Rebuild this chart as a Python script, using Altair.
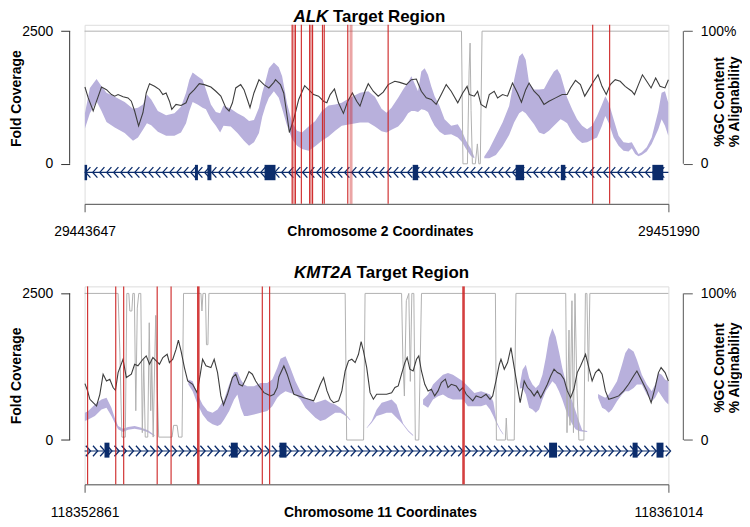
import altair as alt
import pandas as pd

FONT = "Liberation Sans"
NAVY = "#0b2c6b"
BAND = "#b8b0dc"
GC_COL = "#3d3d3d"
ALIGN_COL = "#b0b0b0"
RED = "#cc1f1f"
AXIS_COL = "#333333"

# ---------------- ALK (chromosome 2) ----------------
ALK_START, ALK_END = 29443647, 29451990
# (bp offset from region start, %GC)
alk_gc = [(5,57.9),(52,49.7),(123,39.8),(171,47.2),(242,57.9),(313,55.9),(384,52.2),(431,51.0),(478,52.2),(550,50.5),
          (621,49.7),(668,47.2),(715,39.8),(772,28.6),(834,38.5),(881,53.4),(928,60.4),(1000,58.4),(1071,55.9),(1118,52.2),
          (1165,53.4),(1213,47.2),(1246,41.0),(1307,44.8),(1378,44.0),(1450,46.0),(1497,52.2),(1568,55.9),(1639,60.4),(1710,59.7),
          (1805,57.9),(1876,54.7),(1947,51.0),(2018,42.3),(2065,39.8),(2113,46.0),(2160,57.2),(2231,59.7),(2278,55.9),(2326,48.5),
          (2364,42.3),(2420,53.4),(2492,63.4),(2563,59.7),(2634,57.2),(2705,61.4),(2728,63.4),(2799,59.7),(2846,53.4),(2894,36.0),
          (2927,23.6),(2989,33.6),(3060,48.5),(3145,58.9),(3202,55.9),(3273,52.2),(3344,51.0),(3415,47.2),(3462,46.0),(3510,52.2),
          (3571,56.4),(3628,46.0),(3699,38.0),(3761,47.2),(3827,53.4),(3889,47.2),(3936,43.5),(4007,54.7),(4054,60.4),(4125,54.7),
          (4196,51.0),(4268,54.0),(4339,59.7),(4433,62.2),(4504,61.4),(4599,59.7),(4670,63.4),(4741,63.9),(4812,54.7),(4883,49.7),
          (4954,48.5),(5025,44.8),(5097,52.2),(5168,59.7),(5239,54.7),(5333,46.0),(5404,53.4),(5466,58.4),(5499,52.2),(5570,51.0),
          (5617,54.7),(5665,44.8),(5736,42.3),(5783,52.2),(5854,54.7),(5902,49.7),(5973,52.2),(6044,51.0),(6115,60.9),(6186,53.4),
          (6243,46.5),(6304,55.9),(6352,60.9),(6423,54.7),(6494,51.0),(6565,44.8),(6636,47.2),(6731,49.7),(6825,52.2),(6896,52.2),
          (6944,57.2),(7015,62.9),(7086,59.7),(7147,51.0),(7204,55.9),(7275,62.2),(7337,67.1),(7394,58.4),(7455,52.2),(7512,59.7),
          (7583,63.4),(7654,62.2),(7725,58.4),(7820,54.7),(7858,52.2),(7915,59.7),(7972,67.1),(8033,62.2),(8095,57.2),(8161,64.7),
          (8223,58.4),(8294,57.2),(8343,63.4)]
# coverage band pieces: (bp offset, max fold coverage, min fold coverage)
alk_band_a = [(5,951,665),(76,1430,951),(171,1598,1181),(242,1461,995),(313,1337,789),(431,1262,684),(573,1163,578),
              (692,1038,435),(763,1057,497),(834,1119,640),(891,1305,765),(952,1212,727),(1047,995,603),(1165,914,528),
              (1284,951,528),(1378,1075,590),(1450,1337,765),(1497,1586,995),(1544,1722,1163),(1615,1648,1119),(1686,1586,1057),
              (1734,1399,1026),(1805,1119,839),(1876,976,715),(1937,951,590),(1985,1100,715),(2089,1038,702),(2184,951,578),
              (2278,889,435),(2350,808,341),(2421,827,404),(2492,1057,578),(2539,1337,889),(2586,1554,1088),(2634,1803,1243),
              (2705,1909,1368),(2775,1822,1243),(2823,1648,1038),(2894,1138,715),(2965,777,466),(3036,621,341),(3107,590,280),
              (3202,702,248),(3296,808,329),(3391,995,435),(3486,1100,516),(3581,1119,621),(3675,1150,715),(3794,1243,746),
              (3936,1337,777),(4054,1368,777),(4149,1262,702),(4244,1038,615),(4315,964,590),(4386,1057,640),(4481,1243,702),
              (4552,1399,808),(4623,1536,951),(4670,1648,995),(4718,1511,995),(4765,1368,976),(4812,1741,1026),(4860,1803,1013),
              (4907,1679,976),(4954,1461,839),(5002,1274,715),(5073,1088,603),(5144,839,541),(5239,715,559),(5333,746,497),
              (5390,621,416),(5452,435,279),(5523,280,143),(5570,130,105)]
alk_band_b = [(5712,136,105),(5783,279,105),(5878,528,167),(5973,777,329),(6067,1088,541),(6138,1586,777),(6210,2021,951),
              (6257,2083,995),(6304,1959,951),(6352,1524,870),(6423,1399,746),(6494,1399,590),(6565,1411,559),(6636,1586,621),
              (6707,1741,715),(6754,1785,777),(6802,1679,839),(6849,1461,808),(6896,1243,765),(6967,1026,590),(7038,839,466),
              (7110,715,391),(7181,653,404),(7252,715,453),(7323,901,497),(7394,1119,715),(7441,1274,901),(7488,1162,777),
              (7560,839,497),(7631,528,341),(7702,404,248),(7773,391,230),(7820,404,292),(7868,292,186),(7915,186,143),
              (7962,217,167),(8033,311,230),(8104,497,373),(8199,995,652),(8246,1337,839),(8294,1368,715),(8341,1150,528)]
alk_bands = [alk_band_a, alk_band_b]
# (bp offset, % alignability)
alk_align = [(0,100),(5386,100),(5407,0),(5471,0),(5495,70),(5509,91),(5523,40),(5542,0),(5584,0),(5613,15),
             (5634,0),(5655,0),(5680,100),(8343,100)]
alk_red = [2966,3013,3098,3216,3258,3400,3425,3761,4338,7261,7503]
alk_red_pale = [2988,3237,3808]
alk_red_bold = []
alk_exons = [(0,36),(1577,1620),(1755,1812),(2572,2728),(4689,4767),(6160,6281),(6806,6870),(8114,8270)]

# ---------------- KMT2A (chromosome 11) ----------------
KMT_START, KMT_END = 118352861, 118361014
kmt_gc = [(5,38.5),(42,33.5),(74,27.8),(120,25.5),(167,23.2),(213,31.2),(259,44.9),(306,40.3),(352,41.5),(398,35.8),
          (431,33.9),(468,46.0),(537,55.1),(583,42.6),(653,44.9),(699,51.7),(745,50.6),(815,55.1),(861,57.4),(907,51.7),
          (954,56.3),(1000,54.0),(1046,51.7),(1093,56.3),(1153,58.5),(1185,52.8),(1232,55.1),(1278,62.0),(1310,68.1),(1347,60.8),
          (1394,49.4),(1440,40.3),(1509,38.0),(1570,32.4),(1616,44.9),(1648,55.1),(1695,50.6),(1764,49.4),(1810,55.1),(1857,46.0),
          (1903,30.1),(1940,23.9),(1996,31.2),(2065,42.6),(2111,44.9),(2158,38.0),(2204,36.9),(2250,41.5),(2296,46.7),(2343,44.9),
          (2389,40.3),(2435,36.9),(2505,32.3),(2551,31.2),(2597,30.1),(2644,31.2),(2690,35.8),(2713,43.0),(2783,50.5),(2829,44.9),
          (2875,38.0),(2922,31.2),(2991,30.1),(3061,28.9),(3130,27.8),(3199,26.7),(3246,32.3),(3292,38.0),(3338,42.6),(3385,33.5),
          (3431,27.8),(3477,25.5),(3547,26.7),(3593,33.5),(3639,47.1),(3686,54.0),(3732,55.1),(3778,52.8),(3825,58.5),(3862,67.2),
          (3894,60.8),(3940,49.4),(3987,32.3),(4033,27.8),(4079,31.2),(4149,31.2),(4218,31.2),(4288,32.3),(4334,35.8),(4380,36.9),
          (4426,44.9),(4473,52.8),(4505,56.3),(4542,48.3),(4588,47.1),(4635,55.1),(4667,57.4),(4704,47.1),(4751,38.0),(4797,33.5),
          (4843,34.6),(4889,30.1),(4936,33.5),(4982,39.2),(5038,41.5),(5075,35.8),(5121,38.0),(5190,36.9),(5237,33.5),(5283,35.8),
          (5329,31.2),(5376,28.9),(5421,26.7),(5468,30.1),(5537,28.9),(5607,31.2),(5662,27.8),(5699,30.1),(5745,40.3),(5792,51.7),
          (5815,55.1),(5861,48.3),(5907,52.8),(5954,63.1),(6000,49.4),(6046,35.8),(6083,25.5),(6139,40.3),(6185,35.8),(6232,33.5),
          (6278,30.1),(6324,33.5),(6370,28.9),(6417,33.5),(6463,38.0),(6509,43.7),(6556,48.3),(6602,46.0),(6648,44.9),(6695,41.5),
          (6741,33.5),(6787,28.9),(6833,34.6),(6880,46.0),(6926,50.5),(6996,58.5),(7042,49.4),(7088,40.3),(7134,46.0),(7181,48.3),
          (7227,44.9),(7273,33.5),(7320,27.8),(7389,28.9),(7459,30.1),(7528,33.5),(7597,38.0),(7667,43.7),(7713,47.1),(7759,42.6),
          (7806,38.0),(7852,33.5),(7912,25.5),(7968,35.8),(8014,46.0),(8051,49.4),(8107,46.0),(8153,40.3)]
kmt_band_a = [(5,464,323),(51,493,351),(144,606,408),(236,691,521),(306,719,550),(375,550,408),(421,380,295),(468,238,182),
              (537,193,136),(607,221,176),(699,238,193),(792,210,170),(884,165,131),(977,85,63)]
kmt_band_b = [(1449,1030,946),(1509,1002,832),(1579,776,607),(1648,606,436),(1718,493,323),(1787,464,267),(1857,521,238),
              (1903,606,267),(1949,691,351),(2019,946,493),(2088,1160,691),(2134,1160,776),(2181,1030,550),(2227,946,408),
              (2273,917,408),(2366,917,436),(2459,974,464),(2551,974,493),(2621,1030,577),(2690,1228,719),(2736,1387,776),
              (2806,1427,832),(2875,1228,804),(2945,1002,776),(3014,832,691),(3084,719,550),(3153,691,464),(3223,634,380),
              (3292,663,323),(3362,691,351),(3431,634,408),(3500,606,464),(3570,550,464),(3616,493,436),(3662,419,396),(3709,351,334)]
kmt_band_c = [(3940,210,199),(4010,323,295),(4079,521,408),(4149,634,436),(4218,663,464),(4288,691,464),(4357,606,380),
              (4403,436,323),(4450,278,255),(4519,165,147),(4588,85,68)]
kmt_band_d = [(4727,691,606),(4797,776,550),(4866,946,691),(4936,1030,747),(5005,1115,776),(5075,1143,719),(5144,1115,691),
              (5214,1059,691),(5283,1002,691),(5352,917,577),(5444,804,577),(5537,832,577),(5607,804,606),(5662,776,521),
              (5708,651,408),(5755,312,278),(5801,193,170),(5847,108,91)]
kmt_band_e = [(6079,946,877),(6116,1200,889),(6162,1285,776),(6208,1059,550),(6255,946,521),(6301,889,464),(6347,946,521),
              (6394,1115,691),(6440,1398,832),(6486,1738,917),(6533,1908,1002),(6579,1766,946),(6625,1511,832),(6671,1228,691),
              (6718,1002,521),(6764,832,380),(6810,663,267),(6857,493,182),(6903,323,153),(6949,170,147),(7019,153,136)]
kmt_band_f = [(7171,787,719),(7227,747,550),(7273,719,521),(7320,776,464),(7366,860,521),(7435,1002,663),(7505,1285,776),
              (7551,1483,832),(7597,1568,832),(7667,1511,889),(7713,1370,946),(7782,1115,946),(7852,946,776),(7921,832,663),
              (7968,946,719),(8014,1143,832),(8060,1115,747),(8107,1030,663),(8153,1002,606)]
kmt_bands = [kmt_band_a, kmt_band_b, kmt_band_c, kmt_band_d, kmt_band_e, kmt_band_f]
kmt_align = [(0,100),(468,100),(493,60),(521,2),(569,2),(590,100),(618,100),(632,88),(660,88),(674,100),(695,100),
             (715,20),(736,90),(757,100),(785,100),(806,5),(826,55),(847,2),(882,2),(903,80),(924,20),(938,55),(958,2),
             (993,85),(1014,35),(1035,2),(1222,2),(1243,10),(1292,10),(1313,2),(1361,2),(1382,100),(1625,100),(1639,88),
             (1653,100),(1688,100),(1702,65),(1722,65),(1736,100),(3639,100),(3660,0),(3896,0),(3917,100),(4427,100),
             (4445,55),(4466,30),(4493,95),(4528,100),(4549,40),(4570,100),(4598,100),(4619,0),(4667,0),(4705,100),
             (5737,100),(5751,0),(5876,0),(5889,15),(5903,0),(6000,0),(6024,100),(6719,100),(6737,5),(6765,75),(6778,10),
             (6806,95),(6827,5),(6848,100),(6876,35),(6903,0),(6973,0),(6994,100),(7015,100),(7036,40),(7056,100),(8153,100)]
kmt_red = [42,435,546,1014,1208,2482,2584]
kmt_red_pale = []
kmt_red_bold = [1588,5292]
kmt_exons = [(278,347),(2042,2139),(2722,2820),(6487,6598),(7653,7723),(7987,8084)]

COV_TICKS = [0, 2500]
PCT_TICKS = [0, 100]
Y_DOMAIN = [-755, 2620]
P_DOMAIN = [-30.2, 104.8]
W = 587
CHEVRON_STEP = 100
TITLE_FS = 17


def panel(gene, chrom, start, end, H, gc, bands, align, red, red_pale, red_bold, exons, strand,
          track_y, exon_y, gene_x, title_y, ltitle_y, rtitle_y, lab_pad, xtitle_y):
    xs = alt.Scale(domain=[start, end], nice=False, zero=False)
    xaxis = alt.Axis(values=[start, end], format="d", title=f"Chromosome {chrom} Coordinates",
                     labelFontSize=14, labelColor="black", labelFlush=False, labelOverlap=False,
                     labelBaseline="alphabetic", labelPadding=lab_pad, tickSize=8, tickColor="#555555",
                     domainColor="#555555", titleFontSize=14, titleFontWeight="bold", titleColor="black",
                     titleBaseline="alphabetic", titleX=297, titleY=xtitle_y, titleAlign="center", grid=False)

    def X(f):
        return alt.X(f"{f}:Q", scale=xs, axis=xaxis)

    ys = alt.Scale(domain=Y_DOMAIN, nice=False, zero=False)
    yaxis = alt.Axis(orient="left", values=COV_TICKS, format="d", offset=15, domain=False, tickSize=9,
                     tickColor=AXIS_COL, labelFontSize=14, labelColor="black", labelPadding=8,
                     title="Fold Coverage", titleFontSize=14, titleFontWeight="bold", titleColor="black",
                     titleAngle=270, titleBaseline="alphabetic", titleAlign="center", titleX=-49,
                     titleY=ltitle_y, grid=False)

    def Y(f):
        return alt.Y(f"{f}:Q", scale=ys, axis=yaxis)

    ps = alt.Scale(domain=P_DOMAIN, nice=False, zero=False)
    paxis = alt.Axis(orient="right", values=PCT_TICKS, labelExpr="datum.value == 100 ? '100%' : '0'",
                     offset=15, domain=False, tickSize=9, tickColor="#555555", labelFontSize=14,
                     labelColor="black", labelPadding=8, title=["%GC Content", "% Alignability"],
                     titleFontSize=14, titleFontWeight="bold", titleColor="black", titleAngle=270,
                     titleBaseline="alphabetic", titleAlign="center", titleX=40, titleY=rtitle_y,
                     titleLineHeight=15.5, grid=False)

    def P(f):
        return alt.Y(f"{f}:Q", scale=ps, axis=paxis)

    gc_df = pd.DataFrame(gc, columns=["off", "gc"])
    gc_df["pos"] = start + gc_df["off"]
    rows = []
    for i, seg in enumerate(bands):
        for off, hi, lo in seg:
            rows.append({"pos": start + off, "hi": hi, "lo": lo, "seg": i})
    band_df = pd.DataFrame(rows)
    al_df = pd.DataFrame(align, columns=["off", "al"])
    al_df["pos"] = start + al_df["off"]
    red_df = pd.DataFrame({"pos": [start + r for r in red]})
    ex_df = pd.DataFrame(exons, columns=["s", "e"])
    ex_df["s"] += start
    ex_df["e"] += start
    ex_df["y1"] = exon_y[0]
    ex_df["y2"] = exon_y[1]
    chev_df = pd.DataFrame({"pos": list(range(start + CHEVRON_STEP // 2, end, CHEVRON_STEP))})
    chev_df["y"] = track_y
    line_df = pd.DataFrame({"a": [start], "b": [end], "y": [track_y]})
    laxis_df = pd.DataFrame({"y0": [COV_TICKS[0]], "y1": [COV_TICKS[1]]})
    raxis_df = pd.DataFrame({"y0": [PCT_TICKS[0]], "y1": [PCT_TICKS[1]]})

    if strand < 0:
        chev = "M0.45,-1L-0.45,0L0.45,1"
    else:
        chev = "M-0.45,-1L0.45,0L-0.45,1"

    band = alt.Chart(band_df).mark_area(color=BAND, opacity=1).encode(
        x=X("pos"), y=Y("hi"), y2="lo", detail="seg:N")
    gline = alt.Chart(line_df).mark_rule(color=NAVY, strokeWidth=1.2).encode(
        x=X("a"), x2="b", y=Y("y"))
    chevs = alt.Chart(chev_df).mark_point(shape=chev, size=110, filled=False, color=NAVY,
                                          strokeWidth=1.3, opacity=1).encode(x=X("pos"), y=Y("y"))
    exr = alt.Chart(ex_df).mark_rect(color=NAVY).encode(x=X("s"), x2="e", y=Y("y1"), y2="y2")
    lax = alt.Chart(laxis_df).mark_rule(color=AXIS_COL, strokeWidth=1).encode(
        x=alt.value(-15), y=Y("y0"), y2="y1")
    t1 = alt.Chart(pd.DataFrame({"t": [gene]})).mark_text(
        align="right", baseline="alphabetic", font=FONT, fontSize=TITLE_FS, fontWeight="bold",
        fontStyle="italic", color="black").encode(text="t:N", x=alt.value(gene_x), y=alt.value(title_y))
    t2 = alt.Chart(pd.DataFrame({"t": ["Target Region"]})).mark_text(
        align="left", baseline="alphabetic", font=FONT, fontSize=TITLE_FS, fontWeight="bold",
        color="black").encode(text="t:N", x=alt.value(gene_x + 4.7), y=alt.value(title_y))
    left = alt.layer(band, gline, chevs, exr, lax, t1, t2)

    aline = alt.Chart(al_df).mark_line(color=ALIGN_COL, strokeWidth=1).encode(x=X("pos"), y=P("al"))
    gcl = alt.Chart(gc_df).mark_line(color=GC_COL, strokeWidth=1.1).encode(x=X("pos"), y=P("gc"))
    layers = [aline, gcl]
    if red_pale:
        layers.append(alt.Chart(pd.DataFrame({"pos": [start + r for r in red_pale]})).mark_rule(
            color=RED, strokeWidth=3, opacity=0.4).encode(x=X("pos")))
    if red_bold:
        layers.append(alt.Chart(pd.DataFrame({"pos": [start + r for r in red_bold]})).mark_rule(
            color=RED, strokeWidth=2.6, opacity=0.85).encode(x=X("pos")))
    layers.append(alt.Chart(red_df).mark_rule(color=RED, strokeWidth=1.2, opacity=0.9).encode(x=X("pos")))
    layers.append(alt.Chart(raxis_df).mark_rule(color="#555555", strokeWidth=1).encode(
        x=alt.value(W + 15), y=P("y0"), y2="y1"))
    right = alt.layer(*layers)

    return alt.layer(left, right).resolve_scale(y="independent").properties(width=W, height=H)


top = panel("ALK", 2, ALK_START, ALK_END, 180, alk_gc, alk_bands, alk_align, alk_red, alk_red_pale,
            alk_red_bold, alk_exons, -1, -162, (-20, -310), 245, -2.7, 73.7, 77, 24, 32)
bottom = panel("KMT2A", 11, KMT_START, KMT_END, 199, kmt_gc, kmt_bands, kmt_align, kmt_red, kmt_red_pale,
               kmt_red_bold, kmt_exons, 1, -187, (-45, -300), 269, -8.5, 89.5, 81.5, 24, 32)

chart = alt.vconcat(top, bottom, spacing=24).properties(
    padding={"left": 1, "top": -2.5, "right": 0, "bottom": 0}
).configure_view(stroke=None).configure(font=FONT).configure_axis(labelFont=FONT, titleFont=FONT)

chart.save("out.html", embed_options={"renderer": "svg", "actions": False})
